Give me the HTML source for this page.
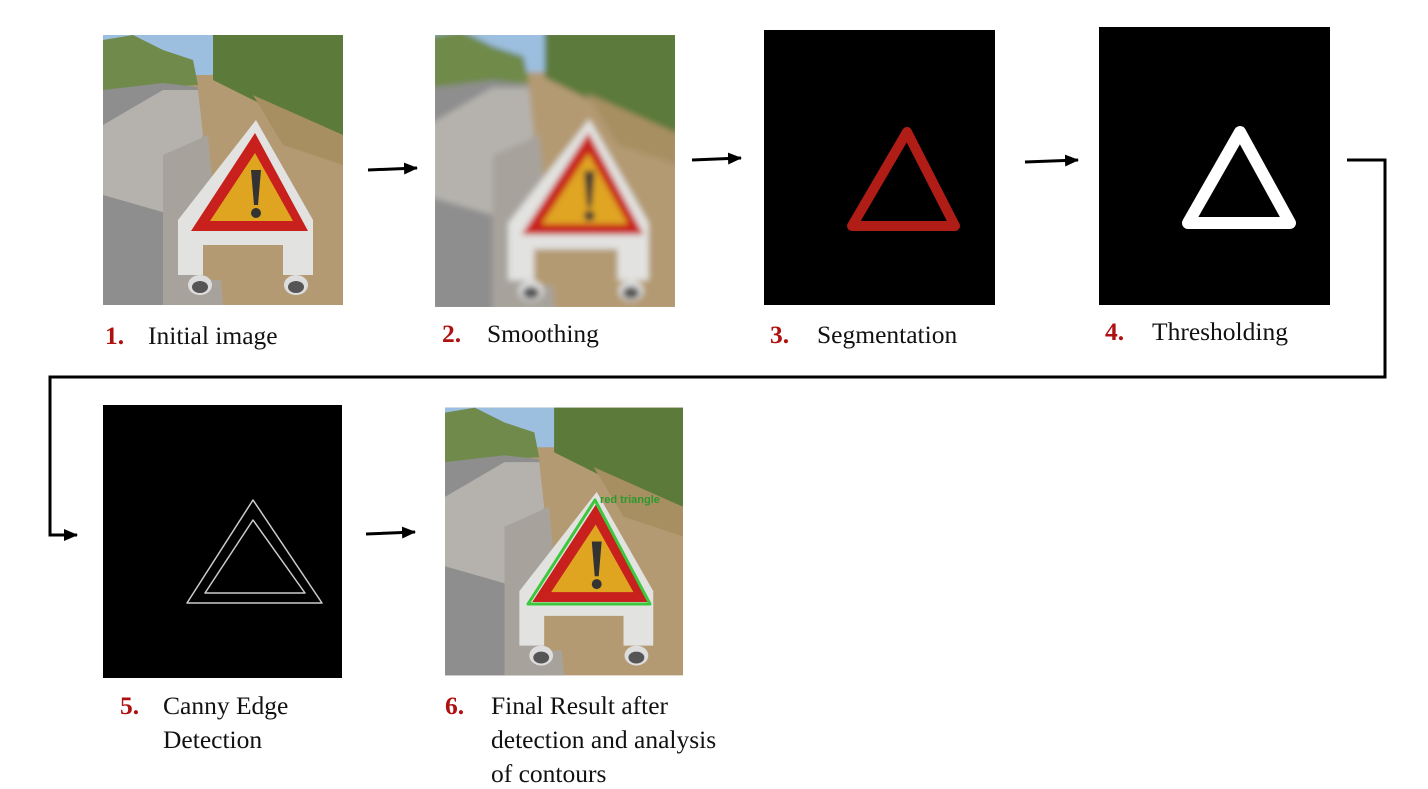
<!DOCTYPE html>
<html><head><meta charset="utf-8"><style>
html,body{margin:0;padding:0;background:#fff;}
svg{display:block;}
text{font-family:"Liberation Serif",serif;font-size:25.5px;fill:#111;}
.n{fill:#b01010;font-weight:bold;}
</style></head><body>
<svg width="1428" height="789" viewBox="0 0 1428 789" xmlns="http://www.w3.org/2000/svg">
<defs>
<marker id="ah" markerWidth="14" markerHeight="12" refX="13" refY="6" orient="auto" markerUnits="userSpaceOnUse">
<path d="M0,0 L14,6 L0,12 z" fill="#000"/></marker>
<filter id="bl"><feGaussianBlur stdDeviation="3"/></filter>
<symbol id="photo" viewBox="0 0 240 270">
<rect width="240" height="270" fill="#b39a72"/>
<rect width="130" height="40" fill="#9cbfe0"/>
<path d="M0,5 L30,0 L60,15 L90,25 L95,50 L0,55z" fill="#6f8a4a"/>
<path d="M110,0 L240,0 L240,100 L200,95 L160,70 L110,45z" fill="#5c7a3a"/>
<path d="M150,60 L240,100 L240,130 L180,110z" fill="#a88f62"/>
<path d="M0,55 L60,48 L95,52 L105,270 L0,270z" fill="#8e8e8e"/>
<path d="M0,90 L60,55 L95,55 L100,100 L70,180 L0,160z" fill="#b5b2ad"/>
<path d="M60,120 L105,100 L120,270 L60,270z" fill="#a7a39c"/>
<path d="M153,85 L210,185 L210,240 L75,240 L75,185z" fill="#e2e2e0"/>
<path d="M100,210 L180,210 L180,245 L100,245z" fill="#b39a72"/>
<path d="M152,98 L205,196 L88,196z" fill="#c8201c"/>
<path d="M152,118 L190,186 L107,186z" fill="#e0a520"/>
<path d="M148,135 L158,135 L155,170 L151,170z" fill="#333"/>
<circle cx="153" cy="178" r="5" fill="#333"/>
<ellipse cx="97" cy="250" rx="12" ry="10" fill="#ddd"/><ellipse cx="97" cy="252" rx="8" ry="6" fill="#555"/>
<ellipse cx="193" cy="250" rx="12" ry="10" fill="#ddd"/><ellipse cx="193" cy="252" rx="8" ry="6" fill="#555"/>
</symbol>
</defs>

<use href="#photo" x="103" y="35" width="240" height="270"/>
<svg x="435" y="35" width="240" height="272" viewBox="0 0 240 272"><g filter="url(#bl)"><use href="#photo" x="-5" y="-5" width="250" height="282" preserveAspectRatio="none"/></g></svg>

<rect x="764" y="30" width="231" height="275" fill="#000"/>
<path d="M907,132 L955,226 L852,226z" fill="none" stroke="#b01c16" stroke-width="10" stroke-linejoin="round"/>

<rect x="1099" y="27" width="231" height="278" fill="#000"/>
<path d="M1240,132 L1290,223 L1188,223z" fill="none" stroke="#fff" stroke-width="12" stroke-linejoin="round"/>

<rect x="103" y="405" width="239" height="273" fill="#000"/>
<path d="M253,500 L322,603 L187,603z" fill="none" stroke="#ccc" stroke-width="1.5" stroke-linejoin="round"/>
<path d="M253,520 L305,593 L205,593z" fill="none" stroke="#ccc" stroke-width="1.5" stroke-linejoin="round"/>

<use href="#photo" x="445" y="405" width="238" height="273" preserveAspectRatio="none"/>
<path d="M595,500 L650,604 L528,604z" fill="none" stroke="#3cc83c" stroke-width="3" stroke-linejoin="round"/>
<text x="600" y="503" style="font-family:'Liberation Sans',sans-serif;font-size:11px;font-weight:bold;fill:#2a9a2a">red triangle</text>

<g stroke="#000" stroke-width="3" fill="none">
<line x1="368" y1="170" x2="417" y2="168" marker-end="url(#ah)"/>
<line x1="692" y1="160" x2="741" y2="158" marker-end="url(#ah)"/>
<line x1="1025" y1="162" x2="1078" y2="160" marker-end="url(#ah)"/>
<line x1="366" y1="534" x2="415" y2="532" marker-end="url(#ah)"/>
<polyline points="1347,160 1385,160 1385,377 50,377 50,535 77,535" marker-end="url(#ah)"/>
</g>

<text class="n" x="105" y="344">1.</text><text x="148" y="344">Initial image</text>
<text class="n" x="442" y="342">2.</text><text x="487" y="342">Smoothing</text>
<text class="n" x="770" y="343">3.</text><text x="817" y="343">Segmentation</text>
<text class="n" x="1105" y="340">4.</text><text x="1152" y="340">Thresholding</text>
<text class="n" x="120" y="714">5.</text><text x="163" y="714">Canny Edge</text><text x="163" y="748">Detection</text>
<text class="n" x="445" y="714">6.</text><text x="491" y="714">Final Result after</text><text x="491" y="748">detection and analysis</text><text x="491" y="782">of contours</text>
</svg>
</body></html>
